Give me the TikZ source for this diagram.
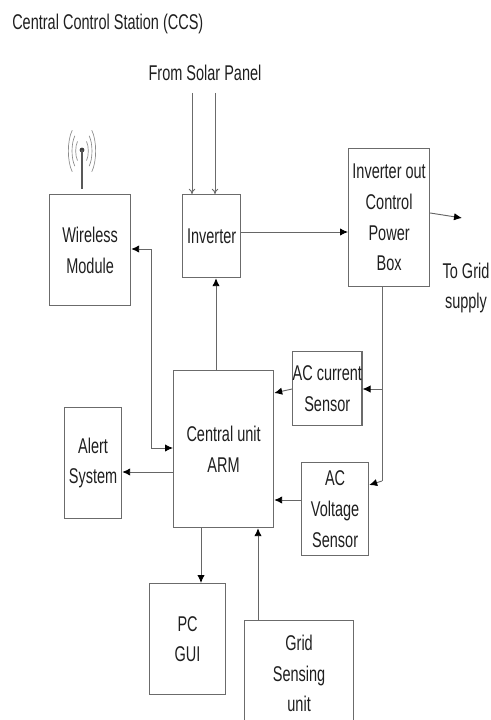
\documentclass[tikz,border=0pt]{standalone}
\usepackage{fontspec}
\setmainfont[FakeStretch=0.68]{Liberation Sans}
\usetikzlibrary{arrows.meta,calc}
\definecolor{ln}{gray}{0.42}
\definecolor{tx}{gray}{0.12}
\tikzset{
  x=0.75pt,y=-0.75pt,
  blockbox/.style={draw=ln,line width=0.9pt,rectangle,anchor=north west,inner sep=0pt,align=center,font=\fontsize{16pt}{23pt}\selectfont,text=tx},
  label/.style={inner sep=0pt,align=center,font=\fontsize{16pt}{23pt}\selectfont,text=tx},
  tip/.tip={Latex[length=6pt,width=5.5pt,color=black]},
  conn/.style={draw=black!60,line width=0.7pt,-tip},
  openconn/.style={draw=ln,line width=0.7pt,-{To[length=4pt,width=5pt]}},
  radio/.style={draw=black!45,line width=0.5pt}
}
\newcommand{\blk}[6]{\node[blockbox,minimum width=#4*0.75pt-#2*0.75pt,minimum height=#5*0.75pt-#3*0.75pt] (#1) at (#2,#3) {#6};}
\begin{document}
\begin{tikzpicture}
\useasboundingbox (0,0) rectangle (491,720);
\node[label,anchor=west] (title) at (12,24) {Central Control Station (CCS)};
\node[label] (solar) at (205,73) {From Solar Panel};
\node[label] (grid) at (466,288) {To Grid\\supply};
\blk{wm}{49}{194}{130}{305}{Wireless\\Module}
\blk{inv}{182}{194}{240}{277}{Inverter}
\blk{box}{348}{148}{429}{286}{Inverter out\\Control\\Power\\Box}
\blk{cur}{292}{351}{358}{425}{AC current\\Sensor}
\blk{vol}{301}{462}{368}{555}{AC\\Voltage\\Sensor}
\blk{arm}{173}{370}{273}{527}{Central unit\\ARM}
\blk{alert}{64}{407}{121}{518}{Alert\\System}
\blk{pc}{149}{583}{225}{694}{PC\\GUI}
\blk{gs}{244}{620}{353}{726}{Grid\\Sensing\\unit}
% free ends
\coordinate (s1) at (192,93);
\coordinate (s2) at (215,93);
\coordinate (out) at (462,218);
\coordinate (wb) at (151,249);
\coordinate (wc) at (151,448);
\coordinate (j1) at (382,389);
\coordinate (j2) at (382,481);
% connectors
\draw[openconn] (s1) -- (s1 |- inv.north);
\draw[openconn] (s2) -- (s2 |- inv.north);
\draw[conn] (inv.east |- 0,232) -- (box.west |- 0,232);
\draw[conn] (box.east |- 0,213) -- (out);
\draw[conn] (arm.north -| 216,0) -- (inv.south -| 216,0);
\draw[conn,tip-tip] (wm.east |- wb) -- (wb) -- (wc) -- (arm.west |- wc);
\draw[conn] (arm.west |- 0,472) -- (alert.east |- 0,472);
\draw[conn] (arm.south -| 201,0) -- (pc.north -| 201,0);
\draw[conn] (gs.north -| 258,0) -- (arm.south -| 258,0);
\draw[conn] (cur.west |- 0,389) -- (arm.east |- 0,393);
\draw[conn] (vol.west |- 0,500) -- (arm.east |- 0,500);
\draw[draw=ln,line width=0.7pt] (box.south -| j2) -- (j2);
\draw[conn] (j1) -- (cur.east |- j1);
\draw[conn] (j2) -- (vol.east |- 0,485);
% antenna
\fill[black!75] (82,150) circle (2.4);
\draw[draw=black!65,line width=1pt] (82,150) -- (82,189);
\foreach \r in {6,9.5,13}{
  \draw[radio] ($(82,151)+(-\r*0.75,-\r*1.6)$) .. controls +(-\r*0.4,\r*0.8) and +(-\r*0.4,-\r*0.8) .. ($(82,151)+(-\r*0.75,\r*1.6)$);
  \draw[radio] ($(82,151)+(\r*0.75,-\r*1.6)$) .. controls +(\r*0.4,\r*0.8) and +(\r*0.4,-\r*0.8) .. ($(82,151)+(\r*0.75,\r*1.6)$);
}
\end{tikzpicture}
\end{document}
